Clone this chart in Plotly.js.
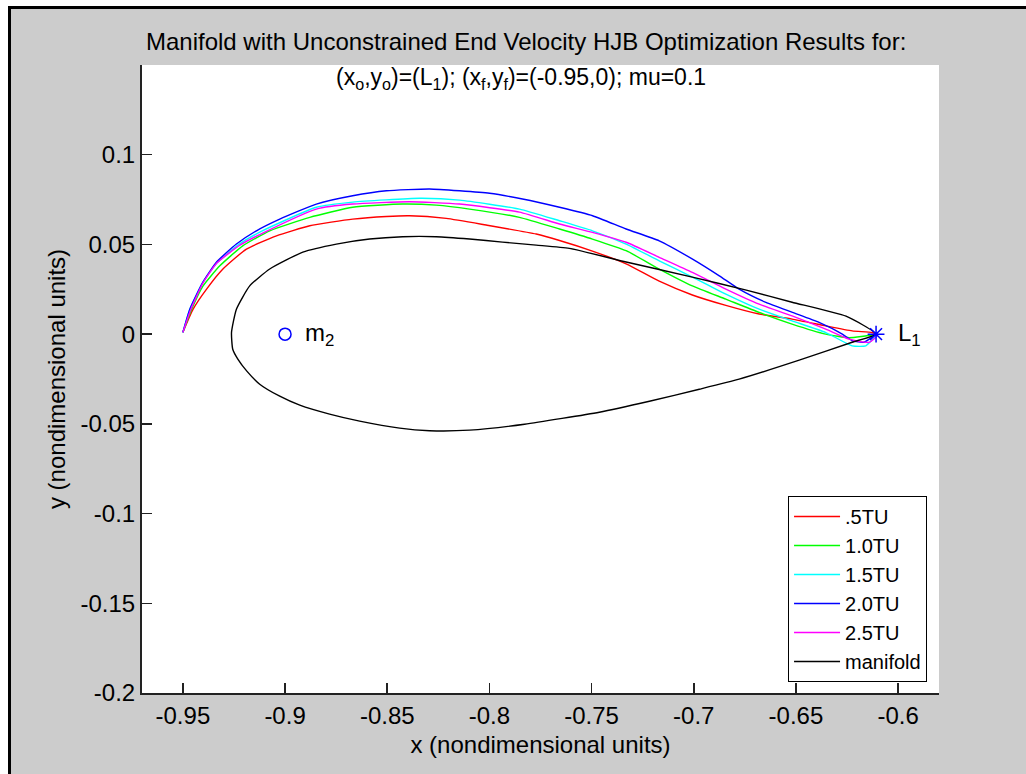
<!DOCTYPE html>
<html>
<head>
<meta charset="utf-8">
<script src="https://cdn.plot.ly/plotly-3.0.1.min.js"></script>
<style>
  html, body { margin: 0; padding: 0; background: #ffffff; }
  #wrap { position: relative; width: 1026px; height: 774px; overflow: hidden; background: #ffffff; }
  #chart { position: absolute; left: 0; top: 0; width: 1026px; height: 774px; }
  .ov { position: absolute; pointer-events: none; }
</style>
</head>
<body>
<div id="wrap">
  <div id="chart"></div>
  <div class="ov" style="left:0;top:0;width:1026px;height:6px;background:#ffffff;"></div>
  <div class="ov" style="left:0;top:0;width:8px;height:774px;background:#ffffff;"></div>
  <div class="ov" style="left:8px;top:6px;width:1018px;height:3px;background:#000000;"></div>
  <div class="ov" style="left:8px;top:6px;width:3px;height:768px;background:#000000;"></div>
</div>
<script>
// ---- data (nondimensional units) ----
const red_x = [-0.9500,-0.9450,-0.9384,-0.9304,-0.9189,-0.9042,-0.8879,-0.8669,-0.8504,-0.8391,-0.8211,-0.8016,-0.7771,-0.7657,-0.7496,-0.7331,-0.7169,-0.7007,-0.6843,-0.6680,-0.6519,-0.6354,-0.6225,-0.6128,-0.6108];
const red_y = [0.0010,0.0139,0.0251,0.0363,0.0474,0.0548,0.0604,0.0641,0.0656,0.0660,0.0645,0.0608,0.0558,0.0522,0.0463,0.0392,0.0295,0.0218,0.0160,0.0112,0.0084,0.0046,0.0018,0.0009,0.0000];

const green_x = [-0.9500,-0.9457,-0.9401,-0.9319,-0.9207,-0.9075,-0.8879,-0.8669,-0.8425,-0.8260,-0.8097,-0.7853,-0.7657,-0.7496,-0.7331,-0.7169,-0.7007,-0.6843,-0.6680,-0.6519,-0.6354,-0.6240,-0.6126,-0.6108];
const green_y = [0.0010,0.0139,0.0269,0.0381,0.0492,0.0576,0.0651,0.0707,0.0725,0.0719,0.0697,0.0651,0.0586,0.0530,0.0465,0.0363,0.0269,0.0195,0.0121,0.0056,0.0000,-0.0020,-0.0005,0.0000];

const cyan_x = [-0.9500,-0.9466,-0.9407,-0.9339,-0.9231,-0.9114,-0.8847,-0.8669,-0.8342,-0.8146,-0.7853,-0.7657,-0.7496,-0.7331,-0.7169,-0.7007,-0.6843,-0.6680,-0.6519,-0.6354,-0.6225,-0.6158,-0.6110,-0.6108];
const cyan_y = [0.0010,0.0139,0.0279,0.0390,0.0496,0.0574,0.0707,0.0736,0.0757,0.0747,0.0697,0.0632,0.0576,0.0502,0.0409,0.0318,0.0223,0.0139,0.0074,0.0009,-0.0065,-0.0065,-0.0009,0.0000];

const blue_x = [-0.9500,-0.9466,-0.9402,-0.9335,-0.9238,-0.9140,-0.9026,-0.8847,-0.8669,-0.8504,-0.8293,-0.8146,-0.7999,-0.7838,-0.7657,-0.7495,-0.7331,-0.7169,-0.7006,-0.6875,-0.6778,-0.6647,-0.6517,-0.6387,-0.6273,-0.6224,-0.6167,-0.6108];
const blue_y = [0.0010,0.0139,0.0290,0.0402,0.0502,0.0576,0.0641,0.0725,0.0771,0.0799,0.0809,0.0799,0.0785,0.0753,0.0707,0.0660,0.0586,0.0520,0.0418,0.0325,0.0251,0.0177,0.0121,0.0065,0.0000,-0.0037,-0.0045,0.0000];

const magenta_x = [-0.9500,-0.9461,-0.9402,-0.9334,-0.9221,-0.9099,-0.8847,-0.8669,-0.8391,-0.8146,-0.7853,-0.7657,-0.7496,-0.7331,-0.7169,-0.7007,-0.6843,-0.6680,-0.6519,-0.6354,-0.6240,-0.6142,-0.6103,-0.6108];
const magenta_y = [0.0010,0.0139,0.0284,0.0396,0.0496,0.0569,0.0697,0.0725,0.0738,0.0725,0.0680,0.0614,0.0567,0.0512,0.0428,0.0344,0.0251,0.0167,0.0102,0.0028,-0.0028,-0.0046,-0.0009,0.0000];

const manifold_x = [-0.6108,-0.6255,-0.6519,-0.6743,-0.7007,-0.7331,-0.7609,-0.7771,-0.7936,-0.8097,-0.8260,-0.8425,-0.8586,-0.8749,-0.8913,-0.9075,-0.9173,-0.9238,-0.9262,-0.9256,-0.9231,-0.9187,-0.9124,-0.9026,-0.8928,-0.8782,-0.8635,-0.8439,-0.8293,-0.8097,-0.7828,-0.7462,-0.7217,-0.6973,-0.6778,-0.6484,-0.6225,-0.6108];
const manifold_y = [0.0000,0.0100,0.0178,0.0245,0.0318,0.0402,0.0478,0.0496,0.0513,0.0530,0.0543,0.0543,0.0530,0.0502,0.0457,0.0363,0.0269,0.0139,0.0009,-0.0084,-0.0139,-0.0206,-0.0279,-0.0346,-0.0396,-0.0446,-0.0485,-0.0524,-0.0538,-0.0535,-0.0502,-0.0435,-0.0374,-0.0307,-0.0251,-0.0145,-0.0045,0.0000];

const m2 = {x: -0.9, y: 0};
const L1 = {x: -0.6108, y: 0};

const seriesNames = ['.5TU', '1.0TU', '1.5TU', '2.0TU', '2.5TU', 'manifold'];
const xTicks = [-0.95, -0.9, -0.85, -0.8, -0.75, -0.7, -0.65, -0.6];
const xTickText = ['-0.95', '-0.9', '-0.85', '-0.8', '-0.75', '-0.7', '-0.65', '-0.6'];
const yTicks = [0.1, 0.05, 0, -0.05, -0.1, -0.15, -0.2];
const yTickText = ['0.1', '0.05', '0', '-0.05', '-0.1', '-0.15', '-0.2'];

// ---- styling ----
const FONT = 'Liberation Sans, Arial, Helvetica, sans-serif';
const colors = ['#ff0000', '#00ff00', '#00ffff', '#0000ff', '#ff00ff', '#000000'];
const xs = [red_x, green_x, cyan_x, blue_x, magenta_x, manifold_x];
const ys = [red_y, green_y, cyan_y, blue_y, magenta_y, manifold_y];

const traces = seriesNames.map((n, i) => ({
  type: 'scatter', mode: 'lines', name: n,
  x: xs[i], y: ys[i],
  line: {color: colors[i], width: 1.4, shape: 'spline', smoothing: 0.5}
}));
traces.push({
  type: 'scatter', mode: 'markers', x: [m2.x], y: [m2.y], showlegend: false,
  marker: {symbol: 'circle-open', size: 12, color: '#0000ff', line: {width: 1.5, color: '#0000ff'}}
});
traces.push({
  type: 'scatter', mode: 'markers', x: [L1.x], y: [L1.y], showlegend: false,
  marker: {symbol: 'asterisk-open', size: 14, color: '#0000ff', line: {width: 1.5, color: '#0000ff'}}
});

const layout = {
  width: 1026, height: 774,
  paper_bgcolor: '#cccccc', plot_bgcolor: '#ffffff',
  margin: {l: 142, r: 87, t: 65, b: 81},
  font: {family: FONT, size: 24, color: '#000000'},
  showlegend: true,
  title: {
    text: 'Manifold with Unconstrained End Velocity HJB Optimization Results for:',
    font: {family: FONT, size: 24, color: '#000000'},
    xref: 'paper', x: 0.482, xanchor: 'center',
    yref: 'container', y: 1 - 42 / 774, yanchor: 'middle'
  },
  xaxis: {
    range: [-0.97, -0.58], tickmode: 'array', tickvals: xTicks, ticktext: xTickText,
    ticks: 'inside', ticklen: 10, tickwidth: 1.5, tickcolor: '#222222',
    showline: true, linecolor: '#222222', linewidth: 2, mirror: false,
    showgrid: false, zeroline: false,
    tickfont: {family: FONT, size: 24, color: '#000000'},
    title: {text: 'x (nondimensional units)', font: {family: FONT, size: 24, color: '#000000'}, standoff: 8}
  },
  yaxis: {
    range: [-0.2, 0.15], tickmode: 'array', tickvals: yTicks, ticktext: yTickText,
    ticks: 'inside', ticklen: 10, tickwidth: 1.5, tickcolor: '#222222',
    showline: true, linecolor: '#222222', linewidth: 2, mirror: false,
    showgrid: false, zeroline: false,
    tickfont: {family: FONT, size: 24, color: '#000000'},
    title: {text: 'y (nondimensional units)', font: {family: FONT, size: 24, color: '#000000'}, standoff: 8}
  },
  legend: {
    x: 0.985, y: 0.0175, xanchor: 'right', yanchor: 'bottom',
    bgcolor: '#ffffff', bordercolor: '#000000', borderwidth: 1,
    font: {family: FONT, size: 20, color: '#000000'},
    tracegroupgap: 0, itemwidth: 46
  },
  annotations: [
    {xref: 'paper', yref: 'paper', x: 0.4755, y: (693 - 78) / 628, xanchor: 'center', yanchor: 'middle',
     text: '(x<sub>o</sub>,y<sub>o</sub>)=(L<sub>1</sub>); (x<sub>f</sub>,y<sub>f</sub>)=(-0.95,0); mu=0.1',
     showarrow: false, font: {family: FONT, size: 23, color: '#000000'}},
    {xref: 'x', yref: 'y', x: -0.891, y: 0, xanchor: 'left', yanchor: 'middle',
     text: 'm<sub>2</sub>', showarrow: false, font: {family: FONT, size: 24, color: '#000000'}},
    {xref: 'x', yref: 'y', x: -0.601, y: 0, xanchor: 'left', yanchor: 'middle',
     text: 'L<sub>1</sub>', showarrow: false, font: {family: FONT, size: 24, color: '#000000'}}
  ]
};

Plotly.newPlot('chart', traces, layout, {staticPlot: true, displayModeBar: false});
</script>
</body>
</html>
